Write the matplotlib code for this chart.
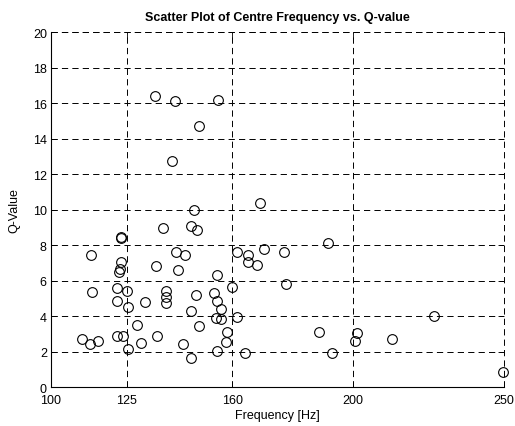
import matplotlib
matplotlib.use("Agg")
import matplotlib.pyplot as plt

plt.rcParams['font.family'] = ['Liberation Sans', 'DejaVu Sans']
plt.rcParams['lines.scale_dashes'] = False

# centre frequency (Hz) and Q-value of each measured peak
freq = [140.2, 169.3, 147.5, 137.2, 146.5, 148.2, 123.2, 123.3, 113.2, 141.3,
        144.4, 161.7, 165.2, 170.6, 177.2, 165.2, 168.3, 123.2, 122.9, 122.6,
        134.7, 142.0, 154.8, 177.8, 113.6, 122.0, 125.3, 138.2, 138.2, 138.2,
        148.0, 153.8, 155.1, 159.9, 121.7, 125.5, 131.0, 146.5, 156.2, 154.7,
        156.2, 161.7, 128.4, 148.9, 158.2, 110.3, 113.0, 115.7, 121.9, 124.0,
        135.1, 129.9, 125.5, 143.8, 158.0, 154.8, 164.2, 146.5,
        191.8, 226.7, 188.6, 201.2, 200.5, 212.9, 193.1, 249.6,
        134.4, 141.0, 155.4, 148.9]
qval = [12.75, 10.38, 9.97, 8.96, 9.09, 8.86, 8.39, 8.45, 7.44, 7.62,
        7.44, 7.62, 7.42, 7.79, 7.62, 7.02, 6.87, 7.02, 6.65, 6.50,
        6.84, 6.59, 6.31, 5.78, 5.37, 5.56, 5.43, 5.43, 5.09, 4.73,
        5.20, 5.30, 4.83, 5.62, 4.83, 4.53, 4.77, 4.30, 4.38, 3.89,
        3.81, 3.96, 3.49, 3.44, 3.12, 2.72, 2.42, 2.61, 2.89, 2.85,
        2.89, 2.50, 2.12, 2.42, 2.55, 2.01, 1.90, 1.65,
        8.13, 4.02, 3.08, 3.02, 2.59, 2.72, 1.90, 0.85,
        16.38, 16.10, 16.17, 14.69]

xticks = [100, 125, 160, 200, 250]
yticks = list(range(0, 21, 2))

fig = plt.figure(figsize=(5.15, 4.27), dpi=100)
ax = fig.add_axes([0.099, 0.0913, 0.88, 0.8314])

ax.plot(freq, qval, 'o', markerfacecolor='none', markeredgecolor='black',
        markersize=7, markeredgewidth=0.8, linestyle='none', clip_on=False, zorder=3)

ax.set_xlim(100, 250)
ax.set_ylim(0, 20)
ax.set_xticks(xticks)
ax.set_yticks(yticks)
ax.tick_params(direction='in', length=4, width=0.6, labelsize=9,
               top=True, right=True)
ax.tick_params(axis='x', pad=5)
ax.tick_params(axis='y', pad=3)

ax.grid(True, color='black', linestyle=(0, (4.5, 3)), linewidth=0.7)
ax.set_axisbelow(True)
for side in ['top', 'right']:
    ax.spines[side].set_visible(False)
for side in ['left', 'bottom']:
    ax.spines[side].set_linewidth(0.8)

# dashed outline along the top and right edges
ax.axhline(20, color='black', linestyle=(0, (4.5, 3)), linewidth=0.7, clip_on=False)
ax.axvline(250, color='black', linestyle=(0, (4.5, 3)), linewidth=0.7, clip_on=False)

ax.set_title('Scatter Plot of Centre Frequency vs. Q-value', fontsize=9,
             fontweight='bold', pad=9)
ax.set_xlabel('Frequency [Hz]', fontsize=9, labelpad=2)
ax.set_ylabel('Q-Value', fontsize=9, labelpad=9)

fig.savefig('out.png', dpi=100)
